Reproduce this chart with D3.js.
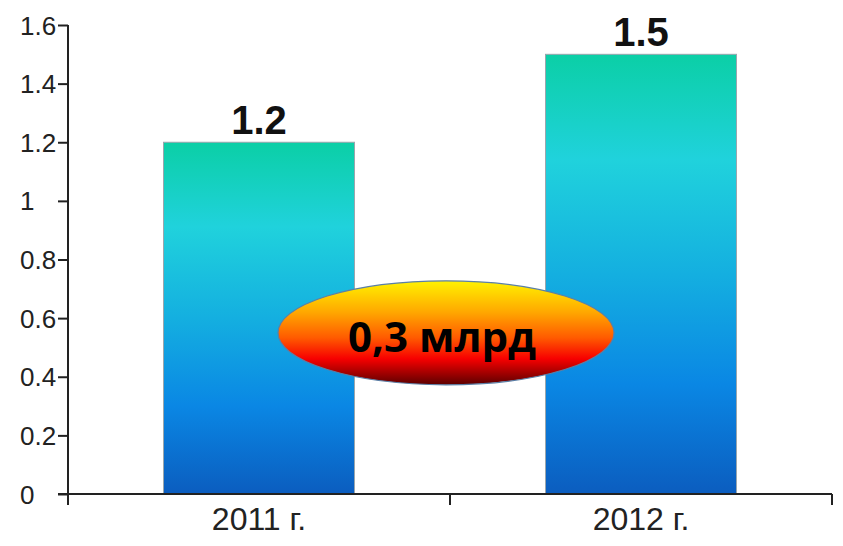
<!DOCTYPE html>
<html>
<head>
<meta charset="utf-8">
<script src="https://cdn.jsdelivr.net/npm/d3@7"></script>
<style>
  body { margin: 0; background: #fff; }
  svg { display: block; }
</style>
</head>
<body>
<div id="chart"></div>
<script>
// chart data
const years = ["2011 г.", "2012 г."];
const values = [1.2, 1.5];
const valueLabels = ["1.2", "1.5"];
const yTicks = [0, 0.2, 0.4, 0.6, 0.8, 1, 1.2, 1.4, 1.6];
const diffLabel = "0,3 млрд";
const diffLevel = 0.55; // where the difference bubble sits on the value axis

const width = 843;
const height = 546;
const margin = { top: 25, right: 11, bottom: 52, left: 68 };

const svg = d3.select("#chart").append("svg")
  .attr("width", width)
  .attr("height", height);

const defs = svg.append("defs");

// bar gradient: teal at the top down to deep blue at the bottom
const barGrad = defs.append("linearGradient")
  .attr("id", "barGrad")
  .attr("x1", 0).attr("y1", 0).attr("x2", 0).attr("y2", 1);
[["0%", "#0bcfa6"], ["24%", "#20d2dc"], ["50%", "#14afe0"], ["75%", "#0a87e4"], ["100%", "#0b5dbf"]]
  .forEach(([o, c]) => barGrad.append("stop").attr("offset", o).attr("stop-color", c));

// bubble gradient: yellow -> orange -> red -> dark red
const bubbleGrad = defs.append("linearGradient")
  .attr("id", "bubbleGrad")
  .attr("x1", 0).attr("y1", 0).attr("x2", 0).attr("y2", 1);
[["0%", "#fff200"], ["30%", "#ffa800"], ["55%", "#ff5a00"], ["75%", "#f70000"], ["100%", "#5c0000"]]
  .forEach(([o, c]) => bubbleGrad.append("stop").attr("offset", o).attr("stop-color", c));

const x = d3.scaleBand()
  .domain(years)
  .range([margin.left, width - margin.right])
  .paddingInner(0)
  .paddingOuter(0);

const y = d3.scaleLinear()
  .domain([0, 1.6])
  .range([height - margin.bottom, margin.top]);

const barW = x.bandwidth() * 0.5;

// bars
svg.selectAll("rect.bar")
  .data(values)
  .join("rect")
  .attr("class", "bar")
  .attr("x", (d, i) => x(years[i]) + (x.bandwidth() - barW) / 2)
  .attr("y", d => y(d))
  .attr("width", barW)
  .attr("height", d => y(0) - y(d))
  .attr("fill", "url(#barGrad)")
  .attr("stroke", "#9aa6ad")
  .attr("stroke-width", 1);

// value labels above bars
svg.selectAll("text.val")
  .data(values)
  .join("text")
  .attr("class", "val")
  .attr("x", (d, i) => x(years[i]) + x.bandwidth() / 2)
  .attr("y", d => y(d) - 8)
  .attr("text-anchor", "middle")
  .style("font-family", "'Liberation Sans', Arial, sans-serif")
  .style("font-weight", "bold")
  .style("font-size", "40px")
  .style("fill", "#111")
  .text((d, i) => valueLabels[i]);

// y axis
const yAxis = svg.append("g")
  .attr("transform", `translate(${margin.left},0)`)
  .call(d3.axisLeft(y).tickValues(yTicks).tickSize(10).tickSizeOuter(0).tickFormat(d3.format("")));
yAxis.select(".domain").attr("d", `M0,${y(1.6)}V${y(0) + 11}`).attr("stroke", "#222").attr("stroke-width", 2);
yAxis.selectAll(".tick line").attr("stroke", "#222").attr("stroke-width", 2);
yAxis.selectAll(".tick text")
  .attr("x", -48)
  .attr("dy", "0.35em")
  .attr("text-anchor", "start")
  .style("font-family", "'Liberation Sans', Arial, sans-serif")
  .style("font-size", "26px")
  .style("fill", "#222");

// x axis
const xAxis = svg.append("g")
  .attr("transform", `translate(0,${y(0)})`)
  .call(d3.axisBottom(x).tickSize(0).tickSizeOuter(0));
xAxis.select(".domain").attr("d", `M${margin.left - 10},0H${width - margin.right}`).attr("stroke", "#222").attr("stroke-width", 2);
xAxis.selectAll(".tick text")
  .attr("y", 36)
  .attr("dy", 0)
  .style("font-family", "'Liberation Sans Narrow', 'Liberation Sans', Arial, sans-serif")
  .style("font-size", "32px")
  .style("fill", "#222");

// category separator ticks on the x axis
const sepX = [margin.left, ...years.map(c => x(c) + x.bandwidth())];
xAxis.selectAll("line.sep")
  .data(sepX)
  .join("line")
  .attr("class", "sep")
  .attr("x1", d => d).attr("x2", d => d)
  .attr("y1", 0).attr("y2", 11)
  .attr("stroke", "#222")
  .attr("stroke-width", 2);

// difference bubble between the bars
const cx = x(years[1]) - 4;
const cy = y(diffLevel);
svg.append("ellipse")
  .attr("cx", cx)
  .attr("cy", cy)
  .attr("rx", 168)
  .attr("ry", 52)
  .attr("fill", "url(#bubbleGrad)")
  .attr("stroke", "#5b7fa6")
  .attr("stroke-width", 1.2);

svg.append("text")
  .attr("x", cx - 4)
  .attr("y", cy + 19)
  .attr("text-anchor", "middle")
  .style("font-family", "'Open Sans', 'Liberation Sans', sans-serif")
  .style("font-weight", "bold")
  .style("font-size", "42px")
  .style("fill", "#000")
  .text(diffLabel);
</script>
</body>
</html>
